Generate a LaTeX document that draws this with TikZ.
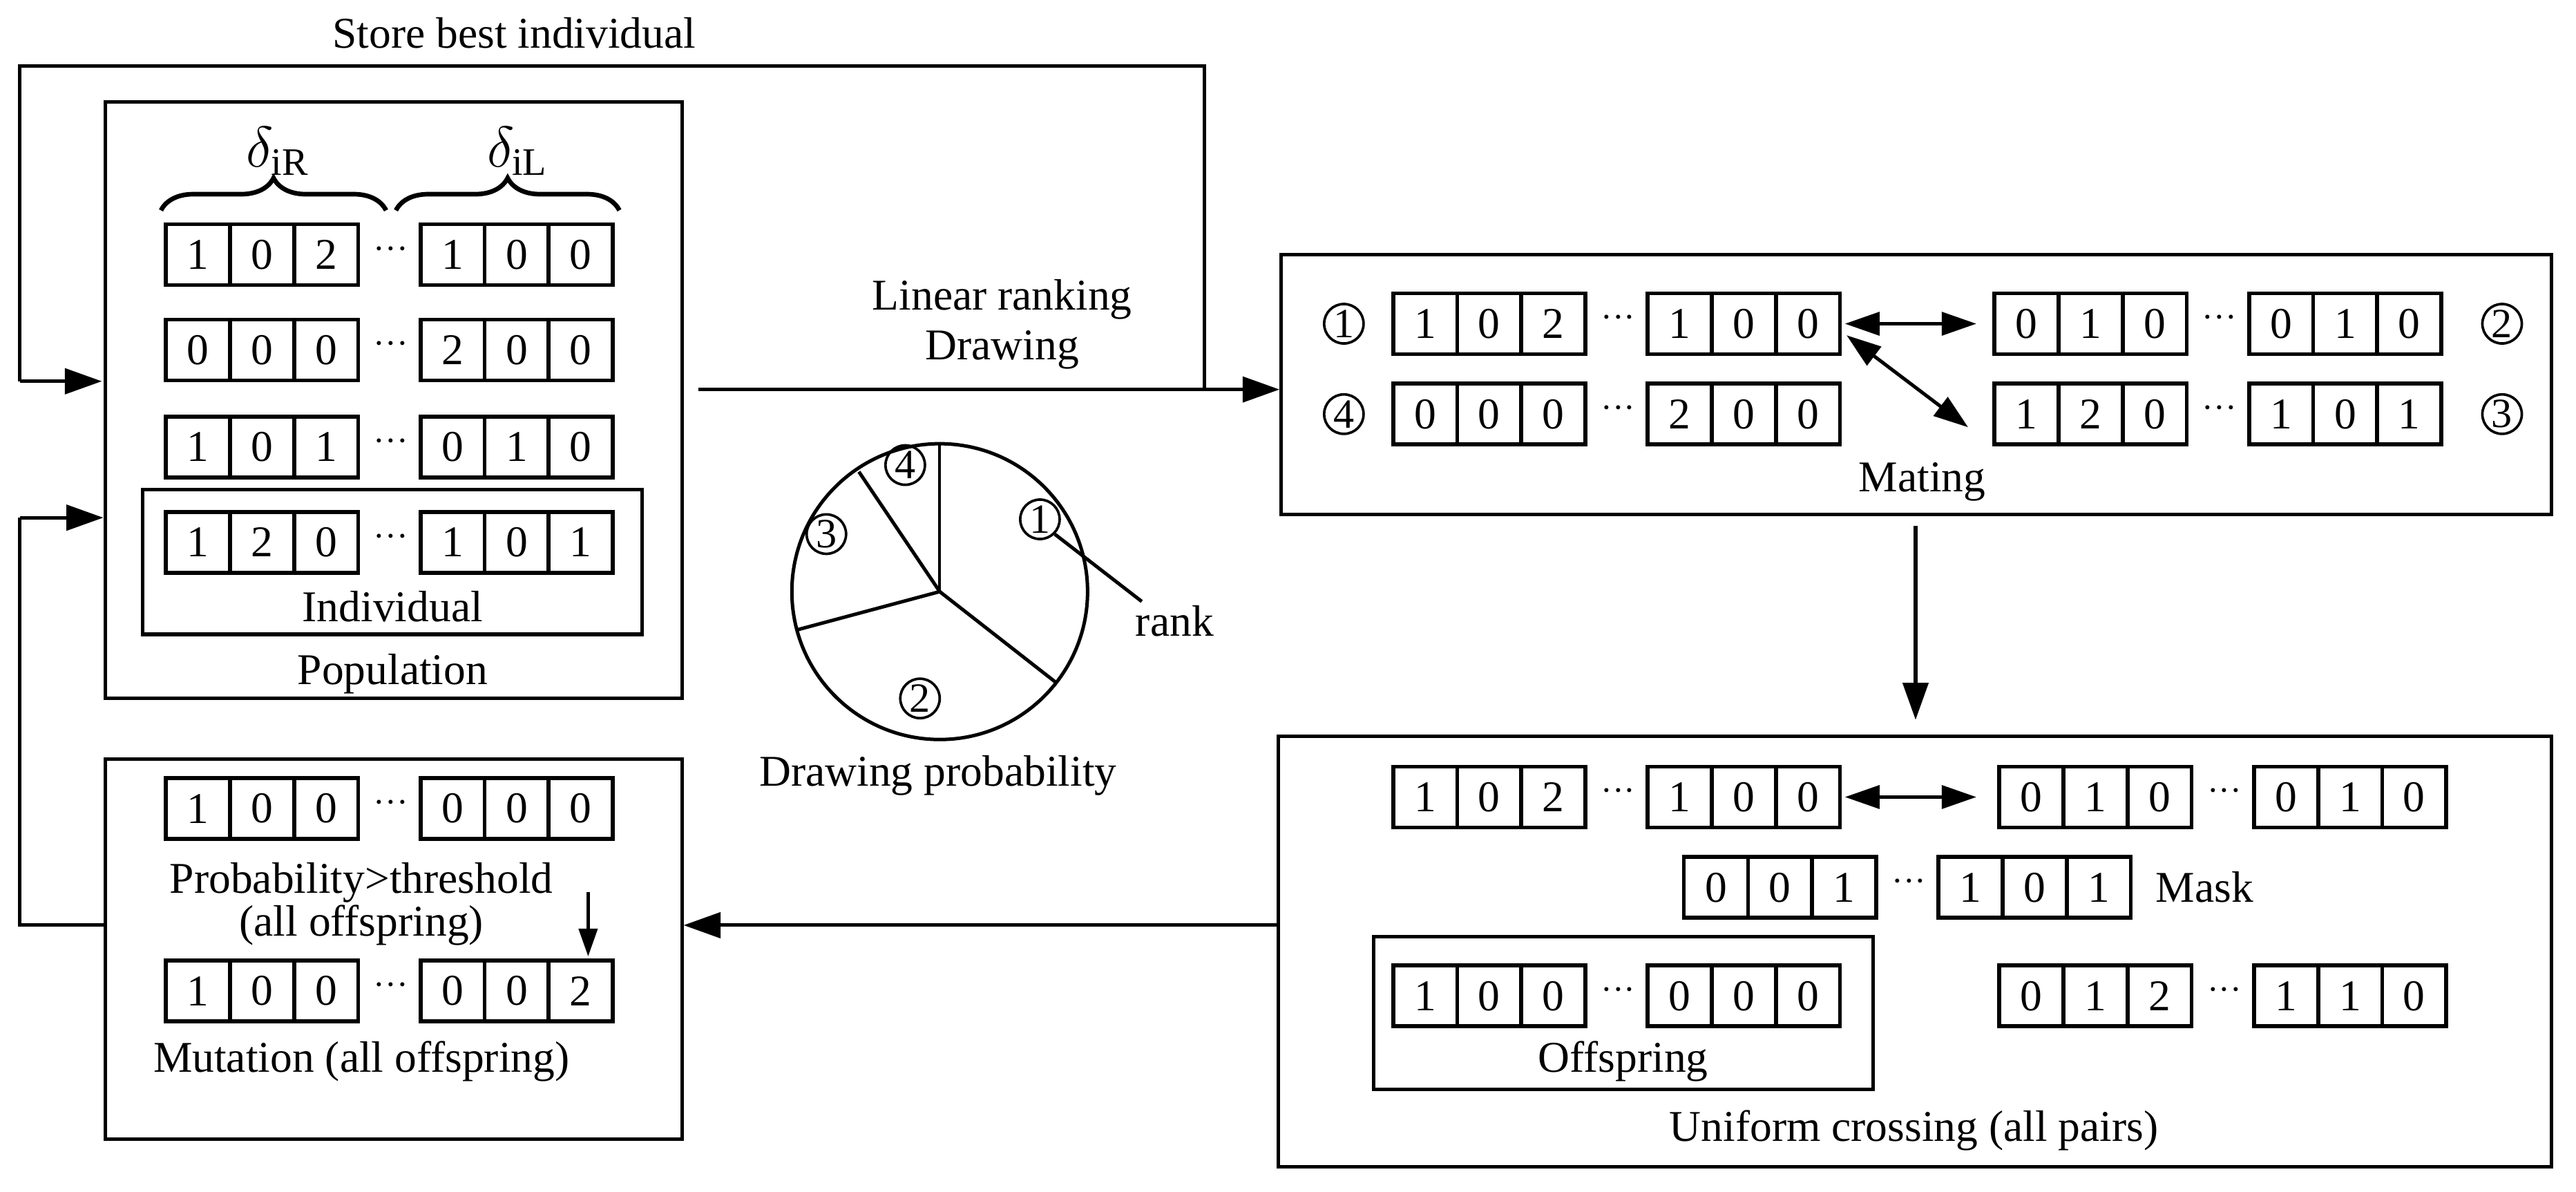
\documentclass[tikz,border=0pt]{standalone}
\usepackage{fontspec}
\setmainfont{Liberation Serif}
\usetikzlibrary{arrows.meta,decorations.pathreplacing}
\begin{document}
\begin{tikzpicture}[x=0.025cm,y=-0.025cm,
  font=\fontsize{19}{21}\selectfont,
  cell/.style={draw,line width=1.7pt,minimum width=0.975cm,minimum height=0.925cm,inner sep=0pt},
  box/.style={draw,line width=1.5pt},
  ln/.style={line width=1.5pt},
  arr/.style={ln,-{Triangle[length=16pt,width=11pt]}},
  darr/.style={ln,{Triangle[length=15pt,width=10pt]}-{Triangle[length=15pt,width=10pt]}},
  cnum/.style={draw,circle,line width=1.1pt,inner sep=0pt,minimum size=0.6cm,font=\fontsize{18}{18}\selectfont},
  brc/.style={line width=2pt,decorate,decoration={brace,amplitude=14pt}},
  txt/.style={inner sep=1pt}]
\useasboundingbox (0,0) rectangle (1568,725);
\newcommand\gene[5]{\foreach \v [count=\i from 0] in {#3,#4,#5} \node[cell] at (#1+19.5+39*\i,#2) {\v};}
\newcommand\chrom[8]{\gene{#1}{#2}{#3}{#4}{#5}\node[txt,font=\fontsize{15}{15}\selectfont] at (#1+137,#2-1) {···};\gene{#1+155}{#2}{#6}{#7}{#8}}
% Population
\node[box,minimum width=8.775cm,minimum height=9.075cm,inner sep=0] (pop) at (239.5,243.5) {};
\draw[box] (87,298) rectangle (391,386);
\chrom{101}{155}{1}{0}{2}{1}{0}{0}
\chrom{101}{213}{0}{0}{0}{2}{0}{0}
\chrom{101}{272}{1}{0}{1}{0}{1}{0}
\chrom{101}{330}{1}{2}{0}{1}{0}{1}
\node[txt] at (239,369) {Individual};
\node[txt] at (239,410) {Population};
\draw[brc] (98,128) -- (235,128);
\draw[brc] (241,128) -- (377,128);
\node[txt,font=\fontsize{24}{24}\selectfont] at (169,92) {$\delta_{\mathrm{iR}}$};
\node[txt,font=\fontsize{24}{24}\selectfont] at (315,92) {$\delta_{\mathrm{iL}}$};
% store best
\node[txt] at (313,20) {Store best individual};
\coordinate (sb) at (733,237);
\draw[ln] (sb) |- (12,40) -- (12,232);
\draw[arr] (12,232) -- (62,232);
% linear ranking
\node[box,minimum width=19.325cm,minimum height=3.95cm,inner sep=0] (mat) at (1166.5,234) {};
\draw[arr] (425,237) -- (mat.west |- 0,237);
\node[txt] at (610,182) {Linear ranking};
\node[txt] at (610,213) {Drawing};
% pie
\coordinate (pc) at (572,360);
\draw[ln] (pc) circle (90);
\draw[line width=1.1pt] (pc) -- ++(-90:90);
\draw[ln] (pc) -- ++(-124:88);
\draw[ln] (pc) -- ++(165:90);
\draw[ln] (pc) -- ++(38:90);
\node[cnum] (r1) at (633,316) {1};
\node[cnum] at (560,425) {2};
\node[cnum] at (503,325) {3};
\node[cnum] at (551,283) {4};
\node[txt] (rank) at (715,378) {rank};
\draw[ln] (r1.south east) -- (695,366);
\node[txt] at (571,472) {Drawing probability};
% mating
\node[cnum] at (818,197) {1};
\node[cnum] at (1523,197) {2};
\node[cnum] at (1523,252) {3};
\node[cnum] at (818,252) {4};
\chrom{848}{197}{1}{0}{2}{1}{0}{0}
\chrom{848}{252}{0}{0}{0}{2}{0}{0}
\chrom{1214}{197}{0}{1}{0}{0}{1}{0}
\chrom{1214}{252}{1}{2}{0}{1}{0}{1}
\draw[darr] (1123,197) -- (1203,197);
\draw[darr] (1124,204) -- (1198,260);
\node[txt] at (1170,293) {Mating};
% crossing
\node[box,minimum width=19.375cm,minimum height=6.55cm,inner sep=0] (cro) at (1165.5,579) {};
\draw[arr] (1166,320) -- (1166,438);
\chrom{848}{485}{1}{0}{2}{1}{0}{0}
\chrom{1217}{485}{0}{1}{0}{0}{1}{0}
\draw[darr] (1123,485) -- (1203,485);
\chrom{1025}{540}{0}{0}{1}{1}{0}{1}
\node[txt] at (1342,540) {Mask};
\draw[box] (836,570) rectangle (1140,663);
\chrom{848}{606}{1}{0}{0}{0}{0}{0}
\chrom{1217}{606}{0}{1}{2}{1}{1}{0}
\node[txt] at (988,646) {Offspring};
\node[txt] at (1165,688) {Uniform crossing (all pairs)};
% mutation
\node[box,minimum width=8.775cm,minimum height=5.775cm,inner sep=0] (mut) at (239.5,577.5) {};
\draw[arr] (cro.west |- 0,563) -- (mut.east |- 0,563);
\chrom{101}{492}{1}{0}{0}{0}{0}{0}
\chrom{101}{603}{1}{0}{0}{0}{0}{2}
\node[txt] at (220,537) {Probability>threshold};
\node[txt] at (220,563) {(all offspring)};
\draw[ln,-{Triangle[length=12pt,width=8pt]}] (358,543) -- (358,582);
\node[txt] at (220,646) {Mutation (all offspring)};
\draw[ln] (mut.west |- 0,563) -| (12,315);
\draw[arr] (12,315) -- (pop.west |- 0,315);
\end{tikzpicture}
\end{document}
